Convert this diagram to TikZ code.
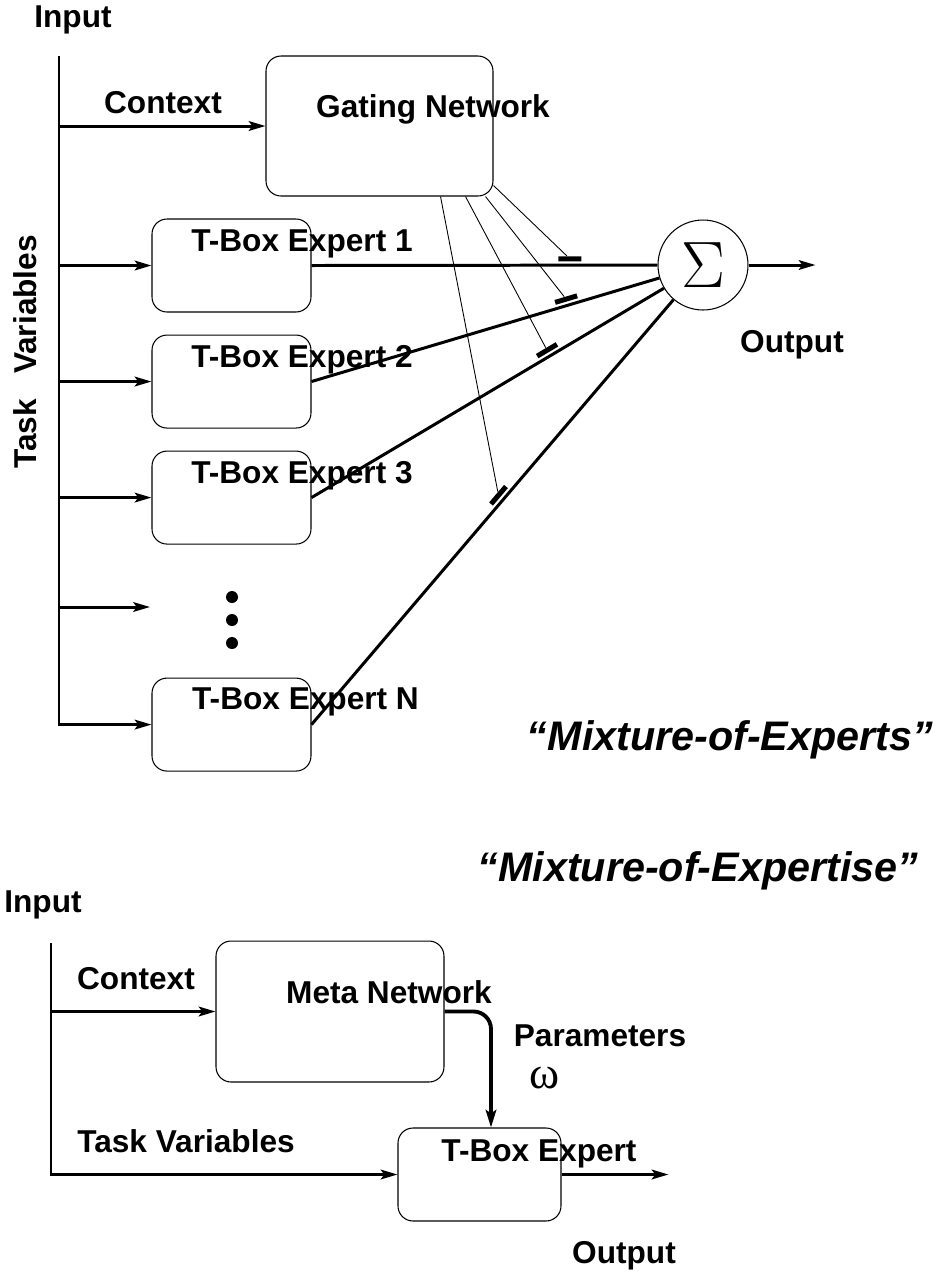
\documentclass[tikz,border=0pt]{standalone}
\usepackage{fontspec}
\usepackage{graphicx}
\setmainfont{Liberation Sans}
\newfontfamily\greekfont{Liberation Serif}
\usetikzlibrary{positioning,calc,arrows.meta}
\tikzset{
    expert/.style={draw, rounded corners=0.3cm, line width=0.6pt,
                   minimum width=3.18cm, minimum height=1.86cm},
    netblock/.style={draw, rounded corners=0.3cm, line width=0.6pt,
                     minimum width=4.54cm, minimum height=2.8cm},
    sum/.style={draw, circle, line width=0.6pt, minimum size=1.8cm,
                inner sep=0pt},
    lbl/.style={font=\bfseries\fontsize{18}{20}\selectfont, inner sep=0pt},
    heading/.style={font=\bfseries\itshape\fontsize{23.5}{26}\selectfont,
                    inner sep=0pt},
    bigdot/.style={fill, circle, minimum size=0.24cm, inner sep=0pt},
    gatebar/.style={fill, rectangle, minimum width=0.46cm,
                    minimum height=0.1cm, inner sep=0pt},
    % Arrow styles
    signal/.style={-{Stealth[length=9.5pt,width=5.5pt,inset=2pt]},
                   line width=1.7pt},
    link/.style={line width=1.7pt},
    gate/.style={line width=0.5pt},
    param/.style={-{Stealth[length=10pt,width=6pt,inset=2pt]},
                  line width=2.2pt, rounded corners=0.35cm}
}

\begin{document}
\begin{tikzpicture}[x=0.02cm, y=-0.02cm]
    \useasboundingbox (0,0) rectangle (947,1276);

    % Mixture-of-Experts
    \coordinate (inA) at (59,56);
    \node[lbl] (inAt) at (73,20) {Input};
    \node[netblock] (gn) at (379.5,126) {};
    \node[lbl] (gnt) at (433,109) {Gating Network};
    \node[lbl] (ctxA) at (163,103) {Context};
    \node[lbl, rotate=90] (tvA) at (25,352) {Task\hspace{0.8em}Variables};

    \node[expert] (e1) at (231.5,265.5) {};
    \node[expert, below=0.44cm of e1] (e2) {};
    \node[expert, below=0.44cm of e2] (e3) {};
    \node[expert, below=2.66cm of e3] (eN) {};
    \coordinate (e0) at (150,607);
    \node[lbl] (e1t) at ([shift={(70.5,-21.5)}]e1.center) {T-Box Expert 1};
    \node[lbl] (e2t) at ([shift={(70.5,-21.5)}]e2.center) {T-Box Expert 2};
    \node[lbl] (e3t) at ([shift={(70.5,-21.5)}]e3.center) {T-Box Expert 3};
    \node[lbl] (eNt) at ([shift={(74,-23)}]eN.center) {T-Box Expert N};

    % Dots for the hidden experts
    \node[bigdot] (d1) at (232,597) {};
    \node[bigdot] (d2) at (232,620) {};
    \node[bigdot] (d3) at (232,643) {};

    \node[sum] (sigma) at (703,265) {\scalebox{1.5}{\Huge$\Sigma$}};
    \coordinate[right=1.34cm of sigma] (outA);
    \node[lbl] (outAt) at (792,345) {Output};

    % Input bus
    \draw[signal] (inA) |- (eN.west);
    \draw[signal] (inA |- gn.west) -- (gn.west);
    \draw[signal] (inA |- e1.west) -- (e1.west);
    \draw[signal] (inA |- e2.west) -- (e2.west);
    \draw[signal] (inA |- e3.west) -- (e3.west);
    \draw[signal] (inA |- e0) -- (e0);

    % Expert outputs into the sum
    \draw[link] (e1.east) -- (sigma);
    \draw[link] (e2.east) -- (sigma);
    \draw[link] (e3.east) -- (sigma);
    \draw[link] (eN.east) -- (sigma);
    \draw[signal] (sigma) -- (outA);

    % Gates
    \path (e1.east) -- (sigma.center) node[gatebar, pos=0.66, sloped, above=2pt] (b1) {};
    \path (e2.east) -- (sigma.center) node[gatebar, pos=0.655, sloped, above=2pt] (b2) {};
    \path (e3.east) -- (sigma.center) node[gatebar, pos=0.61, sloped, above=2pt] (b3) {};
    \path (eN.east) -- (sigma.center) node[gatebar, pos=0.49, sloped, above=2pt] (bN) {};
    \draw[gate] ([yshift=0.22cm]gn.south east) -- (b1);
    \draw[gate] ([xshift=-0.16cm]gn.south east) -- (b2);
    \draw[gate] ([xshift=-0.56cm]gn.south east) -- (b3);
    \draw[gate] ([xshift=-1.06cm]gn.south east) -- (bN);

    \node[heading, anchor=base] (moe) at (730,750) {``Mixture-of-Experts''};

    % Mixture-of-Expertise
    \node[heading, anchor=base] (moex) at (698,881) {``Mixture-of-Expertise''};
    \coordinate (inB) at (51,943);
    \node[lbl] (inBt) at (43,905) {Input};
    \node[netblock, minimum width=4.56cm, minimum height=2.82cm] (mn) at (330,1011.5) {};
    \node[lbl] (mnt) at (389,992) {Meta Network};
    \node[lbl] (ctxB) at (136,979) {Context};
    \node[expert, minimum width=3.26cm] (te) at (479.5,1174.5) {};
    \node[lbl] (tet) at (539,1154) {T-Box Expert};
    \node[lbl] (tvB) at (186,1141) {Task Variables};
    \node[lbl] (par) at (600,1036) {Parameters};
    \node[inner sep=0pt] (om) at (545,1078) {\greekfont\fontsize{26}{26}\selectfont ω};
    \coordinate[right=2.14cm of te] (outB);
    \node[lbl] (outBt) at (624,1256) {Output};

    \draw[signal] (inB |- mn.west) -- (mn.west);
    \draw[signal] (inB) |- (te.west);
    \draw[param] (mn.east) -| ([xshift=0.23cm]te.north);
    \draw[signal] (te.east) -- (outB);
\end{tikzpicture}
\end{document}
